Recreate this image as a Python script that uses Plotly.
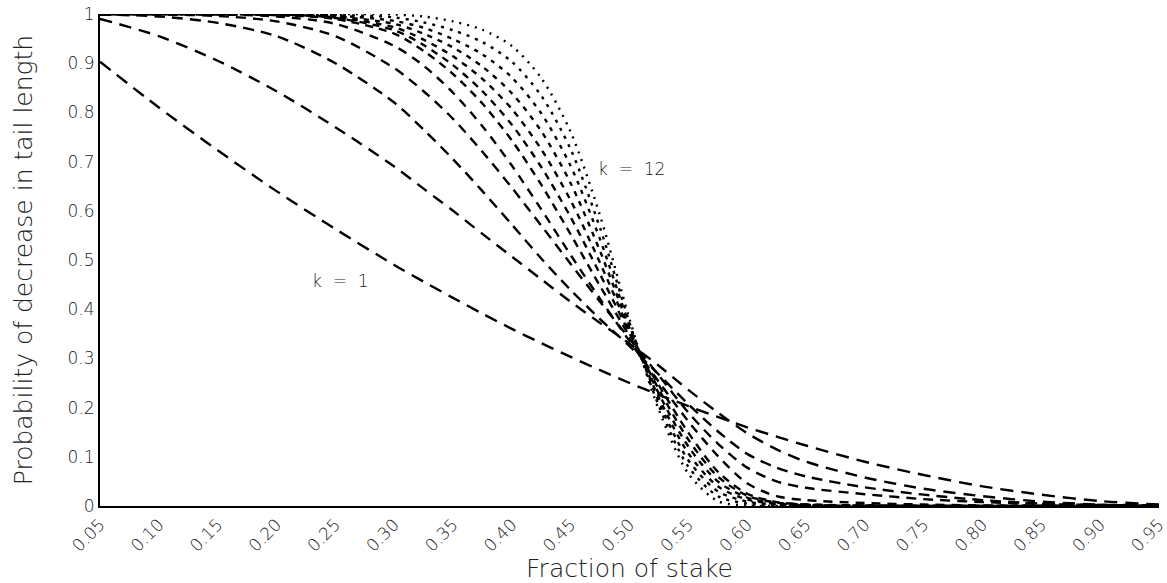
import plotly.graph_objects as go

# x positions (fraction of stake) at which each curve was read
x_vals = [0.05, 0.10, 0.15, 0.20, 0.25, 0.30, 0.325, 0.35, 0.375, 0.40, 0.425, 0.45, 0.475,
          0.50, 0.525, 0.55, 0.575, 0.60, 0.625, 0.65, 0.70, 0.75, 0.80, 0.85, 0.90, 0.95]

# probability of decrease in tail length, one list per k
k1 = [0.903, 0.810, 0.723, 0.640, 0.563, 0.490, 0.456, 0.423, 0.391, 0.360, 0.331, 0.303, 0.276,
      0.250, 0.226, 0.203, 0.181, 0.160, 0.141, 0.123, 0.090, 0.063, 0.040, 0.023, 0.010, 0.003]
k2 = [0.990, 0.955, 0.905, 0.843, 0.770, 0.690, 0.645, 0.600, 0.553, 0.507, 0.461, 0.415, 0.372,
      0.330, 0.285, 0.236, 0.190, 0.148, 0.115, 0.090, 0.058, 0.035, 0.020, 0.009, 0.003, 0.001]
k3 = [0.999, 0.995, 0.982, 0.955, 0.900, 0.820, 0.765, 0.705, 0.640, 0.572, 0.503, 0.439, 0.380,
      0.325, 0.267, 0.207, 0.152, 0.106, 0.078, 0.060, 0.038, 0.023, 0.012, 0.005, 0.002, 0.000]
k4 = [1.000, 0.999, 0.996, 0.985, 0.955, 0.890, 0.843, 0.787, 0.720, 0.647, 0.570, 0.492, 0.415,
      0.340, 0.265, 0.190, 0.127, 0.078, 0.050, 0.037, 0.024, 0.014, 0.008, 0.004, 0.002, 0.000]
k5 = [1.000, 1.000, 0.999, 0.995, 0.980, 0.935, 0.895, 0.840, 0.772, 0.692, 0.603, 0.510, 0.421,
      0.335, 0.252, 0.172, 0.102, 0.046, 0.020, 0.012, 0.006, 0.003, 0.001, 0.000, 0.000, 0.000]
k6 = [1.000, 1.000, 1.000, 0.998, 0.990, 0.960, 0.925, 0.878, 0.818, 0.743, 0.653, 0.552, 0.447,
      0.345, 0.245, 0.149, 0.070, 0.025, 0.008, 0.003, 0.001, 0.000, 0.000, 0.000, 0.000, 0.000]
k7 = [1.000, 1.000, 1.000, 0.998, 0.992, 0.967, 0.937, 0.896, 0.843, 0.775, 0.689, 0.587, 0.471,
      0.351, 0.237, 0.135, 0.060, 0.021, 0.007, 0.003, 0.001, 0.000, 0.000, 0.000, 0.000, 0.000]
k8 = [1.000, 1.000, 1.000, 0.999, 0.993, 0.973, 0.948, 0.914, 0.868, 0.807, 0.725, 0.621, 0.494,
      0.357, 0.228, 0.121, 0.050, 0.017, 0.005, 0.002, 0.001, 0.000, 0.000, 0.000, 0.000, 0.000]
k9 = [1.000, 1.000, 1.000, 0.999, 0.995, 0.980, 0.960, 0.932, 0.893, 0.839, 0.762, 0.656, 0.518,
      0.362, 0.220, 0.107, 0.040, 0.013, 0.004, 0.002, 0.000, 0.000, 0.000, 0.000, 0.000, 0.000]
k10 = [1.000, 1.000, 1.000, 1.000, 0.997, 0.986, 0.972, 0.949, 0.918, 0.871, 0.798, 0.691, 0.542,
       0.367, 0.212, 0.093, 0.030, 0.009, 0.003, 0.001, 0.000, 0.000, 0.000, 0.000, 0.000, 0.000]
k11 = [1.000, 1.000, 1.000, 1.000, 0.998, 0.993, 0.983, 0.967, 0.943, 0.903, 0.834, 0.725, 0.565,
       0.373, 0.203, 0.080, 0.020, 0.005, 0.001, 0.001, 0.000, 0.000, 0.000, 0.000, 0.000, 0.000]
k12 = [1.000, 1.000, 1.000, 1.000, 1.000, 0.999, 0.995, 0.985, 0.968, 0.935, 0.870, 0.760, 0.590,
       0.380, 0.195, 0.066, 0.010, 0.001, 0.000, 0.000, 0.000, 0.000, 0.000, 0.000, 0.000, 0.000]

curves = [k1, k2, k3, k4, k5, k6, k7, k8, k9, k10, k11, k12]

# dash patterns: long dashes for k = 1 shrinking to dots for k = 12
dash_styles = ["13px,8px", "12px,8px", "11px,7px", "10px,7px", "9px,7px", "8px,6px",
               "7px,6px", "6px,6px", "5px,6px", "4px,6px", "3px,6px", "2px,6px"]

x_ticks = [0.05, 0.10, 0.15, 0.20, 0.25, 0.30, 0.35, 0.40, 0.45, 0.50,
           0.55, 0.60, 0.65, 0.70, 0.75, 0.80, 0.85, 0.90, 0.95]
x_tick_text = ["0.05", "0.10", "0.15", "0.20", "0.25", "0.30", "0.35", "0.40", "0.45", "0.50",
               "0.55", "0.60", "0.65", "0.70", "0.75", "0.80", "0.85", "0.90", "0.95"]
y_ticks = [0, 0.1, 0.2, 0.3, 0.4, 0.5, 0.6, 0.7, 0.8, 0.9, 1]
y_tick_text = ["0", "0.1", "0.2", "0.3", "0.4", "0.5", "0.6", "0.7", "0.8", "0.9", "1"]

FONT = "DejaVu Sans"
INK = "#222222"

fig = go.Figure()
for i, ys in enumerate(curves):
    fig.add_trace(go.Scatter(
        x=x_vals, y=ys, mode="lines",
        line=dict(color="black", width=2.4, dash=dash_styles[i], shape="spline", smoothing=0.8),
        showlegend=False, hoverinfo="skip",
    ))

fig.add_annotation(x=0.502, y=0.685, text="k  =  12", showarrow=False,
                   font=dict(family=FONT, size=17, color=INK, weight=200))
fig.add_annotation(x=0.254, y=0.458, text="k  =  1", showarrow=False,
                   font=dict(family=FONT, size=17, color=INK, weight=200))

fig.update_layout(
    width=1167, height=583,
    margin=dict(l=100, r=8, t=14, b=77),
    paper_bgcolor="white", plot_bgcolor="white",
    font=dict(family=FONT, color=INK),
    showlegend=False,
)
fig.update_xaxes(
    range=[0.05, 0.95], tickvals=x_ticks, ticktext=x_tick_text, tickangle=-45,
    tickfont=dict(family=FONT, size=17, color=INK, weight=200),
    showgrid=False, zeroline=False, showline=True, linecolor="black", linewidth=2,
    ticks="", automargin=False, ticklabeloverflow="allow",
    title=dict(text="Fraction of stake", font=dict(family=FONT, size=25, color=INK, weight=200), standoff=8),
)
fig.update_yaxes(
    range=[0, 1], tickvals=y_ticks, ticktext=y_tick_text,
    tickfont=dict(family=FONT, size=17, color=INK, weight=200),
    showgrid=False, zeroline=False, showline=True, linecolor="black", linewidth=2,
    ticks="", automargin=False, ticklabeloverflow="allow",
    title=dict(text="Probability of decrease in tail length",
               font=dict(family=FONT, size=25, color=INK, weight=200), standoff=28),
)

# remove the page's default body margin so the figure fills the window exactly
fig.write_html("out.html", config={"displayModeBar": False},
               post_script="document.body.style.margin='0px';document.body.style.overflow='hidden';")
